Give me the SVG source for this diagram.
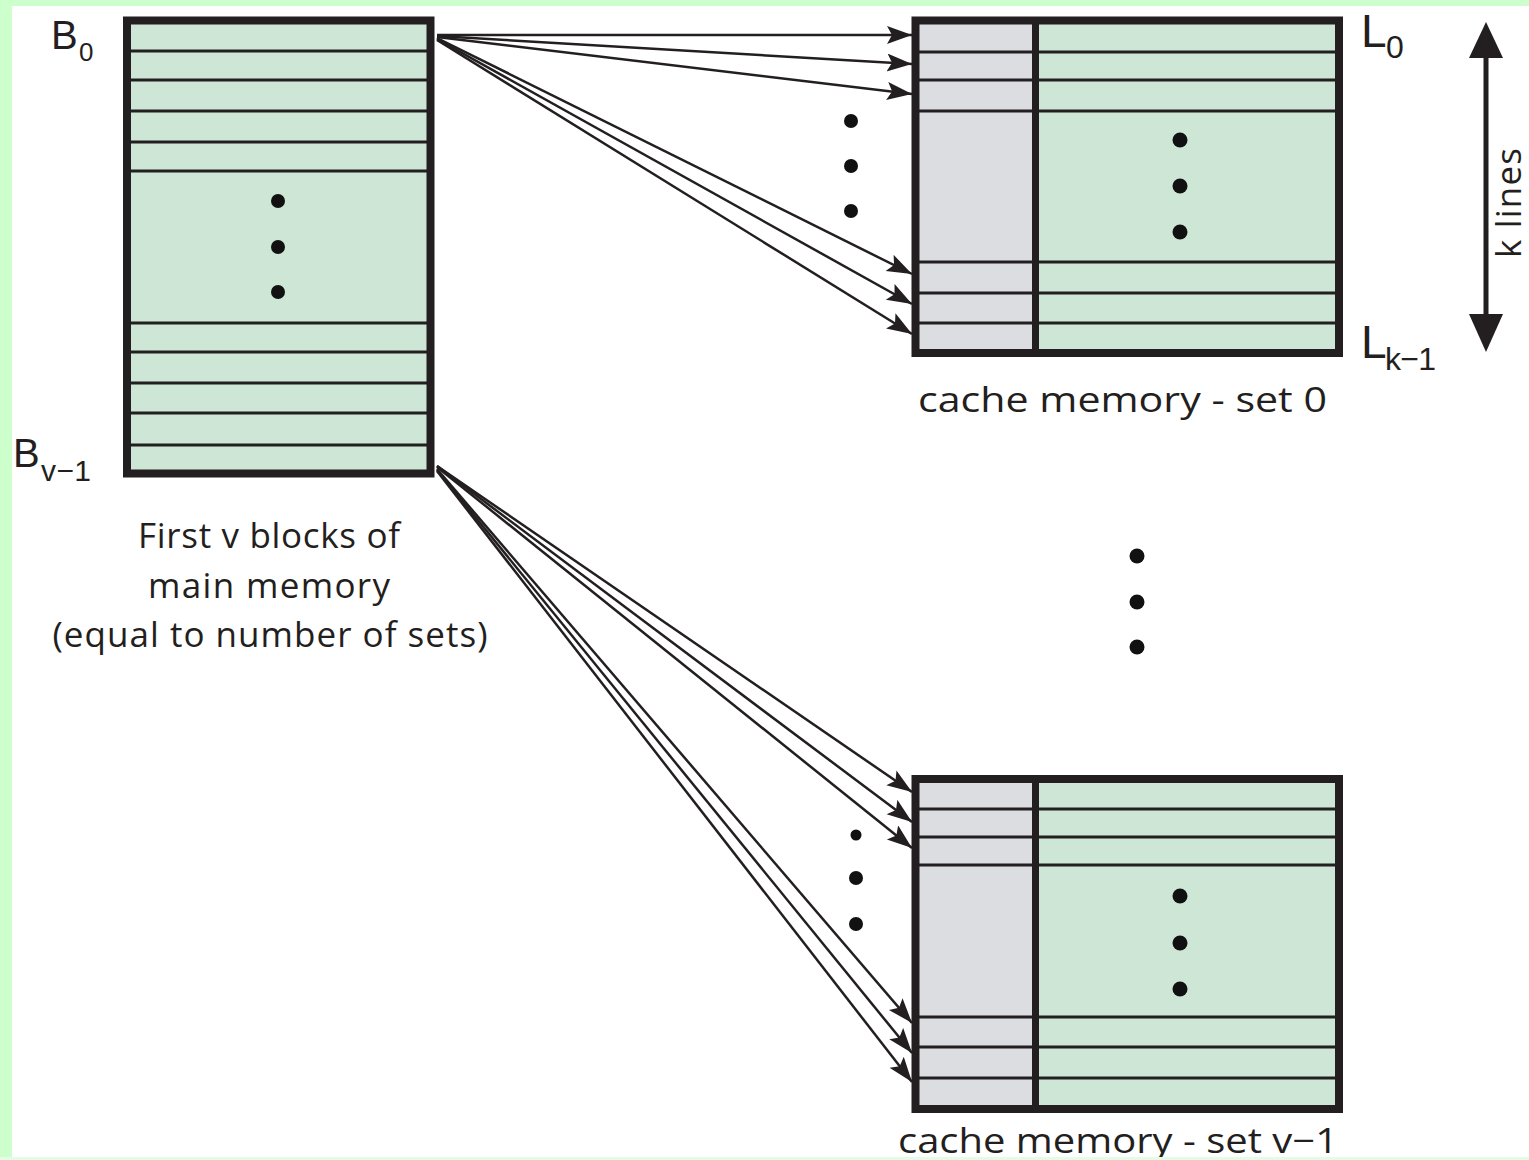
<svg xmlns="http://www.w3.org/2000/svg" width="1529" height="1160" viewBox="0 0 1529 1160">
<defs>
<style>
.bd{fill:none;stroke:#231f20;stroke-width:8}
.ln{stroke:#231f20;stroke-width:3}
.dv{stroke:#231f20;stroke-width:7}
.gr{fill:#cde6d6}
.gy{fill:#dcdde0}
.dot{fill:#111}
.ar{stroke:#231f20;stroke-width:2.5;fill:none;marker-end:url(#ah)}
.t{font-family:"Open Sans","Noto Sans","Liberation Sans",sans-serif;font-size:35px;fill:#231f20}
.lb{font-family:"Liberation Sans",Arial,sans-serif;fill:#231f20}
</style>
<marker id="ah" markerUnits="userSpaceOnUse" markerWidth="28" markerHeight="20" refX="25" refY="9" orient="auto">
<path d="M0,0 L25,9 L0,18 L5,9 z" fill="#231f20"/>
</marker>
</defs>
<rect x="0" y="0" width="1529" height="1160" fill="#ccffcc"/>
<rect x="12" y="6" width="1517" height="1151" fill="#ffffff"/>

<g id="main-memory">
<rect x="127" y="20.5" width="303.5" height="453" class="gr"/>
<g class="ln">
<line x1="131" y1="51" x2="427" y2="51"/>
<line x1="131" y1="80" x2="427" y2="80"/>
<line x1="131" y1="111" x2="427" y2="111"/>
<line x1="131" y1="142" x2="427" y2="142"/>
<line x1="131" y1="171" x2="427" y2="171"/>
<line x1="131" y1="323" x2="427" y2="323"/>
<line x1="131" y1="352" x2="427" y2="352"/>
<line x1="131" y1="383" x2="427" y2="383"/>
<line x1="131" y1="413" x2="427" y2="413"/>
<line x1="131" y1="445" x2="427" y2="445"/>
</g>
<rect x="127" y="20.5" width="303.5" height="453" class="bd"/>
<circle cx="278" cy="201" r="7" class="dot"/>
<circle cx="278" cy="247" r="7" class="dot"/>
<circle cx="278" cy="292" r="7" class="dot"/>
<text class="lb" x="51" y="49" font-size="40" textLength="25">B</text>
<text class="lb" x="79" y="61" font-size="26">0</text>
<text class="lb" x="13" y="467" font-size="40" textLength="25">B</text>
<text class="lb" x="41" y="481" font-size="30" textLength="50">v−1</text>
<text class="t" x="269" y="548" text-anchor="middle" textLength="262">First v blocks of</text>
<text class="t" x="269" y="598" text-anchor="middle" textLength="242">main memory</text>
<text class="t" x="270" y="647" text-anchor="middle" textLength="435">(equal to number of sets)</text>
</g>

<g id="cache-set-0">
<rect x="915.5" y="20.5" width="120" height="332.5" class="gy"/>
<rect x="1035.5" y="20.5" width="303.5" height="332.5" class="gr"/>
<g class="ln">
<line x1="919" y1="52" x2="1335" y2="52"/>
<line x1="919" y1="80" x2="1335" y2="80"/>
<line x1="919" y1="111" x2="1335" y2="111"/>
<line x1="919" y1="262" x2="1335" y2="262"/>
<line x1="919" y1="293" x2="1335" y2="293"/>
<line x1="919" y1="323" x2="1335" y2="323"/>
</g>
<line x1="1035.5" y1="20.5" x2="1035.5" y2="353" class="dv"/>
<rect x="915.5" y="20.5" width="423.5" height="332.5" class="bd"/>
<circle cx="1180" cy="140" r="7.5" class="dot"/>
<circle cx="1180" cy="186" r="7.5" class="dot"/>
<circle cx="1180" cy="232" r="7.5" class="dot"/>
<text class="lb" x="1361" y="47" font-size="46" textLength="20">L</text>
<text class="lb" x="1386" y="58" font-size="32">0</text>
<text class="lb" x="1361" y="358" font-size="46" textLength="20">L</text>
<text class="lb" x="1385" y="370" font-size="32" textLength="51">k−1</text>
<text class="t" x="918" y="412" font-size="37" textLength="409" lengthAdjust="spacingAndGlyphs">cache memory - set 0</text>
</g>

<g id="k-lines">
<line x1="1486" y1="50" x2="1486" y2="322" stroke="#231f20" stroke-width="5"/>
<polygon points="1486,22 1469,58 1503,58" fill="#231f20"/>
<polygon points="1486,352 1469,314 1503,314" fill="#231f20"/>
<text class="t" x="1521" y="203" text-anchor="middle" transform="rotate(-90 1521 203)" textLength="110">k lines</text>
</g>

<g id="cache-set-v-1">
<rect x="915.5" y="779" width="120" height="330" class="gy"/>
<rect x="1035.5" y="779" width="303.5" height="330" class="gr"/>
<g class="ln">
<line x1="919" y1="809" x2="1335" y2="809"/>
<line x1="919" y1="837" x2="1335" y2="837"/>
<line x1="919" y1="865" x2="1335" y2="865"/>
<line x1="919" y1="1017" x2="1335" y2="1017"/>
<line x1="919" y1="1047" x2="1335" y2="1047"/>
<line x1="919" y1="1078" x2="1335" y2="1078"/>
</g>
<line x1="1035.5" y1="779" x2="1035.5" y2="1109" class="dv"/>
<rect x="915.5" y="779" width="423.5" height="330" class="bd"/>
<circle cx="1180" cy="896" r="7.5" class="dot"/>
<circle cx="1180" cy="943" r="7.5" class="dot"/>
<circle cx="1180" cy="989" r="7.5" class="dot"/>
<text class="t" x="898" y="1153" font-size="37" textLength="440" lengthAdjust="spacingAndGlyphs">cache memory - set v−1</text>
</g>

<g id="ellipses">
<circle cx="851" cy="121" r="7" class="dot"/>
<circle cx="851" cy="166" r="7" class="dot"/>
<circle cx="851" cy="211" r="7" class="dot"/>
<circle cx="1137" cy="556" r="7.5" class="dot"/>
<circle cx="1137" cy="602" r="7.5" class="dot"/>
<circle cx="1137" cy="647" r="7.5" class="dot"/>
<circle cx="856" cy="835" r="5.5" class="dot"/>
<circle cx="856" cy="878" r="7" class="dot"/>
<circle cx="856" cy="924" r="7" class="dot"/>
</g>

<g id="connectors">
<line x1="437" y1="35" x2="912" y2="35" class="ar"/>
<line x1="437" y1="36" x2="912" y2="64" class="ar"/>
<line x1="437" y1="37" x2="912" y2="94" class="ar"/>
<line x1="437" y1="38" x2="912" y2="274" class="ar"/>
<line x1="437" y1="39" x2="912" y2="304" class="ar"/>
<line x1="437" y1="40" x2="912" y2="334" class="ar"/>
<line x1="437" y1="466" x2="912" y2="792" class="ar"/>
<line x1="437" y1="466" x2="912" y2="822" class="ar"/>
<line x1="437" y1="467" x2="912" y2="848" class="ar"/>
<line x1="437" y1="469" x2="912" y2="1023" class="ar"/>
<line x1="437" y1="470" x2="912" y2="1053" class="ar"/>
<line x1="437" y1="471" x2="912" y2="1082" class="ar"/>
</g>

<rect x="0" y="1157" width="1529" height="3" fill="#e6fbe6"/>
</svg>
